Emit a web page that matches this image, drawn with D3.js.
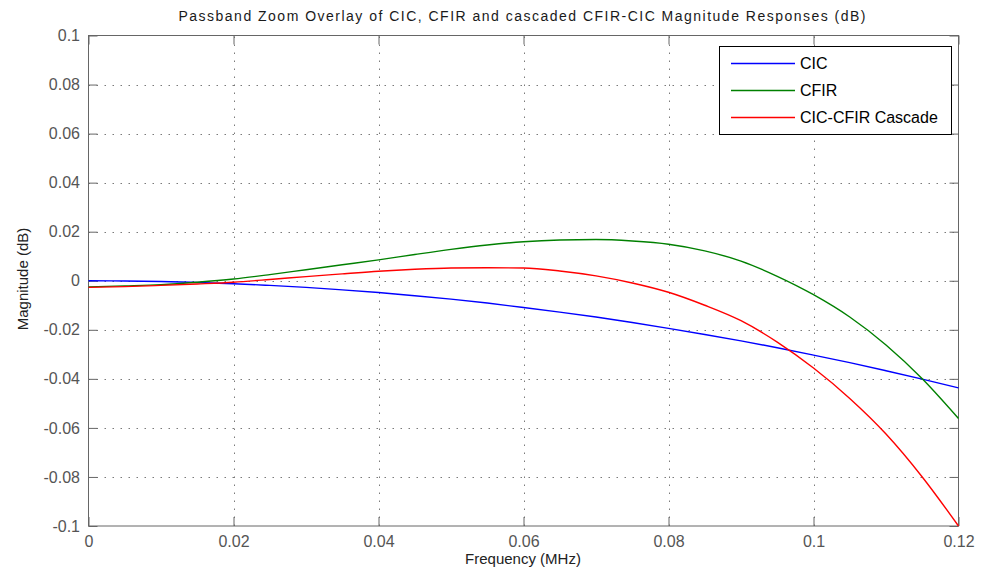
<!DOCTYPE html>
<html>
<head>
<meta charset="utf-8">
<script src="https://cdn.jsdelivr.net/npm/d3@7"></script>
<style>
  html, body { margin: 0; padding: 0; background: #fff; }
  svg { display: block; font-family: "Liberation Sans", Arial, sans-serif; }
</style>
</head>
<body>
<svg id="chart" width="984" height="576"></svg>
<script>
// Frequency grid (MHz)
const freq = [0, 0.005, 0.01, 0.015, 0.02, 0.025, 0.03, 0.035, 0.04, 0.045, 0.05, 0.055,
              0.06, 0.065, 0.07, 0.075, 0.08, 0.085, 0.09, 0.095, 0.1, 0.105, 0.11, 0.115, 0.12];

// Magnitude responses (dB)
const cic = [0, -0.0001, -0.0003, -0.0007, -0.0012, -0.0019, -0.0027, -0.0037, -0.0048, -0.0061,
             -0.0075, -0.0091, -0.0109, -0.0128, -0.0148, -0.0170, -0.0194, -0.0219, -0.0245,
             -0.0273, -0.0303, -0.0334, -0.0367, -0.0401, -0.0437];
const cfir = [-0.0025, -0.0021, -0.0016, -0.0006, 0.0007, 0.0025, 0.0045, 0.0065, 0.0085, 0.0107,
              0.0128, 0.0146, 0.0159, 0.0166, 0.0168, 0.0162, 0.0149, 0.0122, 0.0080, 0.0018,
              -0.0057, -0.0148, -0.0262, -0.0400, -0.0562];
const cascade = [-0.0027, -0.0024, -0.0019, -0.0013, -0.0006, 0.0005, 0.0017, 0.0028, 0.0039, 0.0047,
                 0.0052, 0.0053, 0.0052, 0.0040, 0.0020, -0.0009, -0.0047, -0.0100, -0.0163,
                 -0.0250, -0.0356, -0.0480, -0.0625, -0.0800, -0.1000];

const seriesNames = ["CIC", "CFIR", "CIC-CFIR Cascade"];
const seriesColors = ["#0000ff", "#008000", "#ff0000"];
const seriesValues = [cic, cfir, cascade];

const xTicks = [0, 0.02, 0.04, 0.06, 0.08, 0.1, 0.12];
const xTickLabels = ["0", "0.02", "0.04", "0.06", "0.08", "0.1", "0.12"];
const yTicks = [-0.1, -0.08, -0.06, -0.04, -0.02, 0, 0.02, 0.04, 0.06, 0.08, 0.1];
const yTickLabels = ["-0.1", "-0.08", "-0.06", "-0.04", "-0.02", "0", "0.02", "0.04", "0.06", "0.08", "0.1"];

const titleText = "Passband Zoom Overlay of CIC, CFIR and cascaded CFIR-CIC Magnitude Responses (dB)";
const xLabelText = "Frequency (MHz)";
const yLabelText = "Magnitude (dB)";

const svg = d3.select("#chart");
const L = 88.5, R = 958.5, T = 35.5, B = 526;

const x = d3.scaleLinear().domain([0, 0.12]).range([L, R]);
const y = d3.scaleLinear().domain([-0.1, 0.1]).range([B, T]);

// dotted grid
const grid = svg.append("g").attr("stroke", "#7a7a7a").attr("stroke-width", 1)
  .attr("stroke-dasharray", "1.5,6.5");
grid.selectAll("line.gx").data(xTicks.slice(1, -1)).join("line").attr("class", "gx")
  .attr("x1", d => Math.round(x(d)) + 0.5).attr("x2", d => Math.round(x(d)) + 0.5)
  .attr("y1", B).attr("y2", T);
grid.selectAll("line.gy").data(yTicks.slice(1, -1)).join("line").attr("class", "gy")
  .attr("y1", d => Math.round(y(d)) + 0.5).attr("y2", d => Math.round(y(d)) + 0.5)
  .attr("x1", L).attr("x2", R);

// axes: bottom/left with labels, top/right with inward ticks only
const axisColor = "#666";
const textColor = "#555";
function styleAxis(g) {
  g.select(".domain").remove();
  g.selectAll(".tick line").attr("stroke", axisColor);
  g.selectAll(".tick text").attr("fill", textColor).attr("font-size", 16)
    .attr("font-family", "Liberation Sans, Arial, sans-serif");
}
svg.append("g").attr("transform", `translate(0,${B})`)
  .call(d3.axisBottom(x).tickValues(xTicks).tickSize(-9).tickPadding(10)
    .tickFormat((d, i) => xTickLabels[i]))
  .call(styleAxis);
svg.append("g").attr("transform", `translate(${L},0)`)
  .call(d3.axisLeft(y).tickValues(yTicks).tickSize(-9).tickPadding(8.5)
    .tickFormat((d, i) => yTickLabels[i]))
  .call(styleAxis);
svg.append("g").attr("transform", `translate(0,${T})`)
  .call(d3.axisTop(x).tickValues(xTicks).tickSize(-9).tickFormat(""))
  .call(styleAxis);
svg.append("g").attr("transform", `translate(${R},0)`)
  .call(d3.axisRight(y).tickValues(yTicks).tickSize(-9).tickFormat(""))
  .call(styleAxis);

// frame
svg.append("rect").attr("x", L).attr("y", T).attr("width", R - L).attr("height", B - T)
  .attr("fill", "none").attr("stroke", axisColor).attr("stroke-width", 1);

// response curves
const line = d3.line().x((d, i) => x(freq[i])).y(d => y(d)).curve(d3.curveMonotoneX);
const curves = svg.append("g").attr("fill", "none").attr("stroke-width", 1.4);
seriesValues.forEach((vals, k) => {
  curves.append("path").attr("d", line(vals)).attr("stroke", seriesColors[k]);
});

// title and axis labels
svg.append("text").attr("x", 522).attr("y", 21).attr("text-anchor", "middle")
  .attr("font-size", 14).attr("fill", "#1a1a1a")
  .attr("textLength", 687).attr("lengthAdjust", "spacing")
  .text(titleText);
svg.append("text").attr("x", 523).attr("y", 564).attr("text-anchor", "middle")
  .attr("font-size", 15).attr("fill", "#222").text(xLabelText);
svg.append("text").attr("transform", "translate(28,279) rotate(-90)")
  .attr("text-anchor", "middle").attr("font-size", 15).attr("fill", "#222").text(yLabelText);

// legend
const lg = svg.append("g");
lg.append("rect").attr("x", 719.5).attr("y", 46.5).attr("width", 232).attr("height", 88)
  .attr("fill", "#fff").attr("stroke", "#000").attr("stroke-width", 1);
seriesNames.forEach((name, k) => {
  const yy = 63.5 + k * 27;
  lg.append("rect").attr("x", 731).attr("y", yy - 0.75).attr("width", 64).attr("height", 1.5)
    .attr("fill", seriesColors[k]);
  lg.append("text").attr("x", 800).attr("y", yy + 5.5).attr("font-size", 16)
    .attr("fill", "#000").text(name);
});
</script>
</body>
</html>
